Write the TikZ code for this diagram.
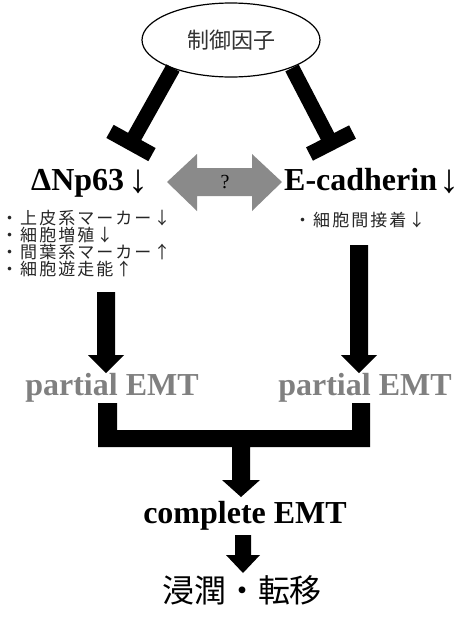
\documentclass[tikz,border=0pt]{standalone}
\usepackage{fontspec}
\usetikzlibrary{shapes.geometric,calc}
\setmainfont{Liberation Serif}
\newfontfamily\jp{Noto Sans CJK JP}
\newfontfamily\jplist[LetterSpace=12]{Noto Sans CJK JP}
\definecolor{midgray}{HTML}{808080}
\definecolor{arrgray}{HTML}{8A8A8A}
\newcommand\bigdown{\raisebox{-2pt}{\mdseries\fontsize{40}{40}\selectfont ↓}}
\begin{document}
\begin{tikzpicture}[x=1pt,y=-1pt,
  big/.style={font=\fontsize{32}{34}\selectfont\bfseries, inner sep=0pt},
  listtxt/.style={font=\jplist\fontsize{17}{18}\selectfont, inner sep=0pt, anchor=west, text=black!85},
  inhib/.style={line width=15pt, black},
  blk/.style={fill=black, draw=none}]
\useasboundingbox (0,0) rectangle (462,641);

% regulator ellipse
\node[draw, line width=1.2pt, ellipse, minimum width=178pt, minimum height=74pt, inner sep=0pt,
  font=\jp\fontsize{22}{24}\selectfont, text=black!80] (reg) at (231,40) {制御因子};

% inhibition lines
\coordinate (lA) at (173,68);
\coordinate (lB) at (131,143);
\coordinate (rA) at (292,68);
\coordinate (rB) at (331,143);
\draw[inhib] (lA) -- (lB);
\draw[inhib] ($(lB)+(-21,-11.6)$) -- ($(lB)+(21,11.6)$);
\draw[inhib] (rA) -- (rB);
\draw[inhib] ($(rB)+(-21.5,11)$) -- ($(rB)+(21.5,-11)$);

% main labels
\node[big, anchor=base west] (np) at (31,190) {ΔNp63\hspace{4pt}\bigdown};
\node[big, anchor=base west] (ec) at (284,190) {E-cadherin\hspace{2pt}\bigdown};

% gray double arrow
\fill[arrgray] (167,182) -- (197,154) -- (197,168) -- (252,168) -- (252,154) -- (282,182)
  -- (252,211) -- (252,196) -- (197,196) -- (197,211) -- cycle;
\node[font=\fontsize{20}{22}\selectfont, inner sep=0pt] (q) at (225,182) {?};

% lists
\node[listtxt] (l1) at (1,218) {・上皮系マーカー↓};
\node[listtxt] (l2) at (1,235) {・細胞増殖↓};
\node[listtxt] (l3) at (1,252) {・間葉系マーカー↑};
\node[listtxt] (l4) at (1,269) {・細胞遊走能↑};
\node[listtxt] (r1) at (294,220) {・細胞間接着↓};

% down arrows to partial EMT
\fill[blk] (97,292) -- (115,292) -- (115,355) -- (124,355) -- (106,373) -- (88,355) -- (97,355) -- cycle;
\fill[blk] (350,245) -- (368,245) -- (368,355) -- (377,355) -- (359,373) -- (341,355) -- (350,355) -- cycle;

% partial EMT labels
\node[big, anchor=base, text=midgray] (pl) at (112,395) {partial EMT};
\node[big, anchor=base, text=midgray] (pr) at (365,395) {partial EMT};

% bracket merging
\fill[blk] (98,403) -- (117,403) -- (117,430) -- (352,430) -- (352,403) -- (370,403) -- (370,447)
  -- (250,447) -- (250,480) -- (260,480) -- (241,497) -- (222,480) -- (232,480) -- (232,447)
  -- (98,447) -- cycle;

% complete EMT
\node[big, anchor=base] (ce) at (245,523) {complete EMT};

% last arrow
\fill[blk] (235,535) -- (251,535) -- (251,555) -- (260,555) -- (243,573) -- (226,555) -- (235,555) -- cycle;

\node[font=\jp\fontsize{32}{34}\selectfont, inner sep=0pt] (inv) at (242,590) {浸潤・転移};
\end{tikzpicture}
\end{document}
